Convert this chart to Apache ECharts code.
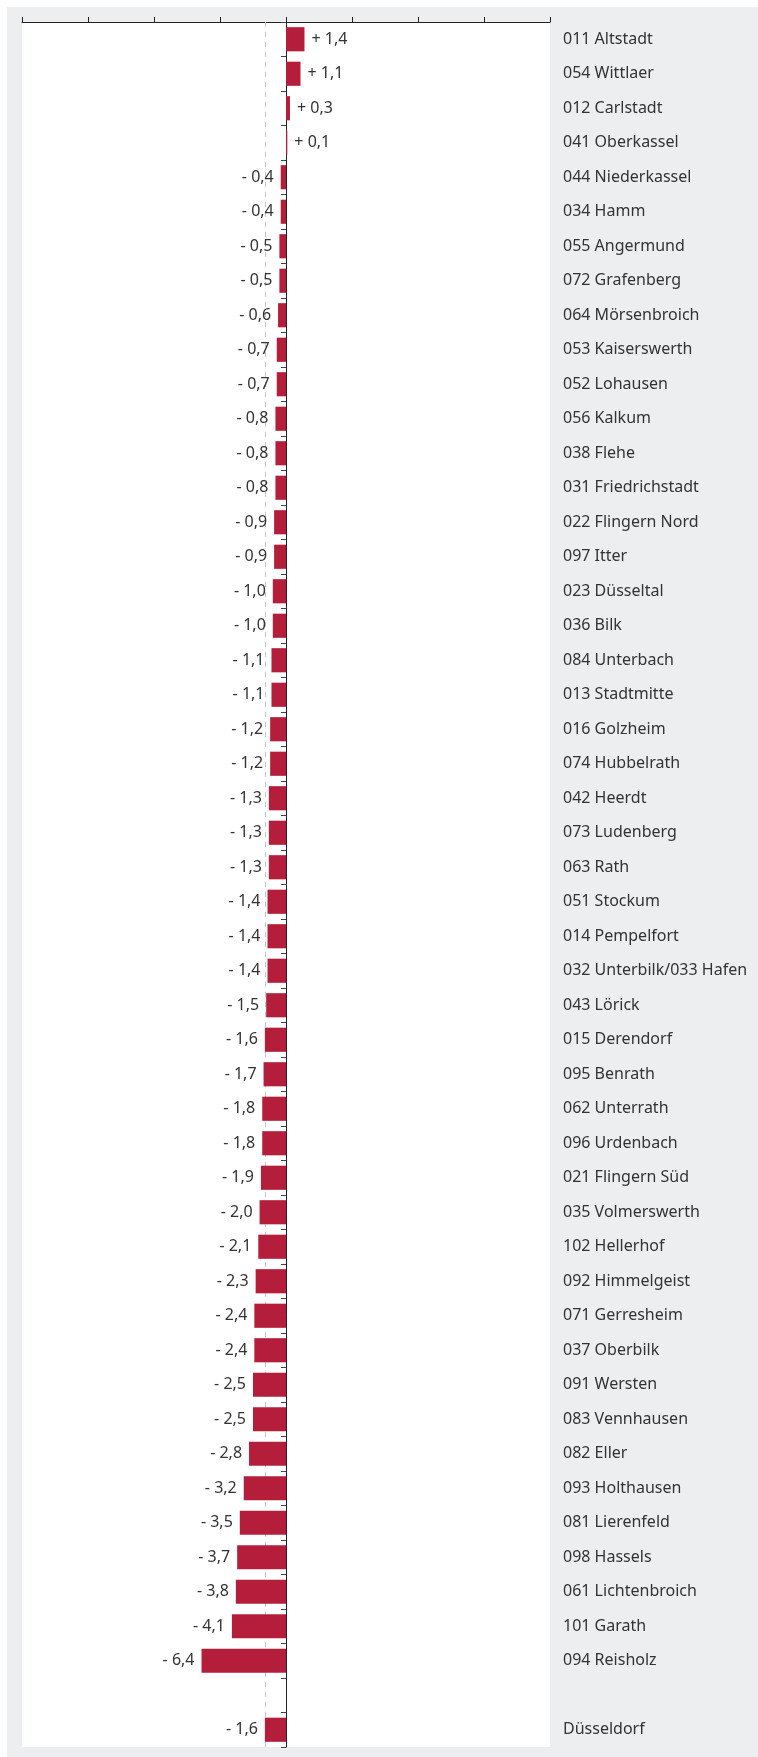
<!DOCTYPE html>
<html>
<head>
<meta charset="utf-8">
<script src="https://cdn.jsdelivr.net/npm/echarts@6/dist/echarts.min.js"></script>
<style>
  html, body { margin: 0; padding: 0; background: #ffffff; }
  #chart { width: 758px; height: 1757px; }
</style>
</head>
<body>
<div id="chart"></div>
<script>
const categories = [
  "011 Altstadt", "054 Wittlaer", "012 Carlstadt", "041 Oberkassel",
  "044 Niederkassel", "034 Hamm", "055 Angermund", "072 Grafenberg",
  "064 Mörsenbroich", "053 Kaiserswerth", "052 Lohausen", "056 Kalkum",
  "038 Flehe", "031 Friedrichstadt", "022 Flingern Nord", "097 Itter",
  "023 Düsseltal", "036 Bilk", "084 Unterbach", "013 Stadtmitte",
  "016 Golzheim", "074 Hubbelrath", "042 Heerdt", "073 Ludenberg",
  "063 Rath", "051 Stockum", "014 Pempelfort", "032 Unterbilk/033 Hafen",
  "043 Lörick", "015 Derendorf", "095 Benrath", "062 Unterrath",
  "096 Urdenbach", "021 Flingern Süd", "035 Volmerswerth", "102 Hellerhof",
  "092 Himmelgeist", "071 Gerresheim", "037 Oberbilk", "091 Wersten",
  "083 Vennhausen", "082 Eller", "093 Holthausen", "081 Lierenfeld",
  "098 Hassels", "061 Lichtenbroich", "101 Garath", "094 Reisholz",
  "", "Düsseldorf"
];
const values = [
  1.4, 1.1, 0.3, 0.1,
  -0.4, -0.4, -0.5, -0.5,
  -0.6, -0.7, -0.7, -0.8,
  -0.8, -0.8, -0.9, -0.9,
  -1.0, -1.0, -1.1, -1.1,
  -1.2, -1.2, -1.3, -1.3,
  -1.3, -1.4, -1.4, -1.4,
  -1.5, -1.6, -1.7, -1.8,
  -1.8, -1.9, -2.0, -2.1,
  -2.3, -2.4, -2.4, -2.5,
  -2.5, -2.8, -3.2, -3.5,
  -3.7, -3.8, -4.1, -6.4,
  null, -1.6
];
const cityAverage = -1.6;
const xTicks = { min: -20, max: 20, interval: 5 };

const FONT = '"Noto Sans", "DejaVu Sans", sans-serif';
const TEXT = '#333333';

const barData = values.map(v => v === null ? '-' : {
  value: v,
  label: { position: v >= 0 ? 'right' : 'left' }
});

const chart = echarts.init(document.getElementById('chart'), null, { renderer: 'canvas' });
chart.setOption({
  animation: false,
  backgroundColor: '#ffffff',
  graphic: {
    elements: [{
      type: 'rect', z: -100, silent: true,
      shape: { x: 7, y: 7, width: 751, height: 1750 },
      style: { fill: '#edeef0' }
    }]
  },
  grid: {
    left: 22, right: 208, top: 22, bottom: 10,
    show: true, backgroundColor: '#ffffff', borderWidth: 0
  },
  xAxis: {
    type: 'value', position: 'top',
    min: xTicks.min, max: xTicks.max, interval: xTicks.interval,
    axisLine: { show: true, onZero: false, lineStyle: { color: '#222', width: 1 } },
    axisTick: { show: true, length: 5, lineStyle: { color: '#222' } },
    axisLabel: { show: false },
    splitLine: { show: false }
  },
  yAxis: [{
    type: 'category', inverse: true, data: categories,
    position: 'left',
    axisLine: { show: true, onZero: true, lineStyle: { color: '#222', width: 1 } },
    axisTick: { show: true, length: 5, interval: 0, lineStyle: { color: '#444' } },
    axisLabel: { show: false, interval: 0 },
    splitLine: { show: false }
  }, {
    type: 'category', inverse: true, data: categories,
    position: 'right',
    axisLine: { show: false },
    axisTick: { show: false },
    axisLabel: {
      show: true, interval: 0, margin: 13, align: 'left',
      color: TEXT, fontFamily: FONT, fontSize: 16
    },
    splitLine: { show: false }
  }],
  series: [{
    type: 'bar',
    yAxisIndex: 0,
    z: 3,
    data: barData,
    barCategoryGap: '30%',
    itemStyle: { color: '#b41e3b' },
    label: {
      show: true, distance: 7,
      color: TEXT, fontFamily: FONT, fontSize: 16,
      formatter: p => {
        const v = p.value;
        if (v === null || v === undefined || v === '-') return '';
        const s = Math.abs(v).toFixed(1).replace('.', ',');
        return (v >= 0 ? '+ ' : '- ') + s;
      }
    },
    markLine: {
      z: 1,
      silent: true, symbol: 'none',
      label: { show: false },
      lineStyle: { color: '#c4c4c4', type: [5, 5], width: 1 },
      data: [{ xAxis: cityAverage }]
    }
  }]
});
</script>
</body>
</html>
